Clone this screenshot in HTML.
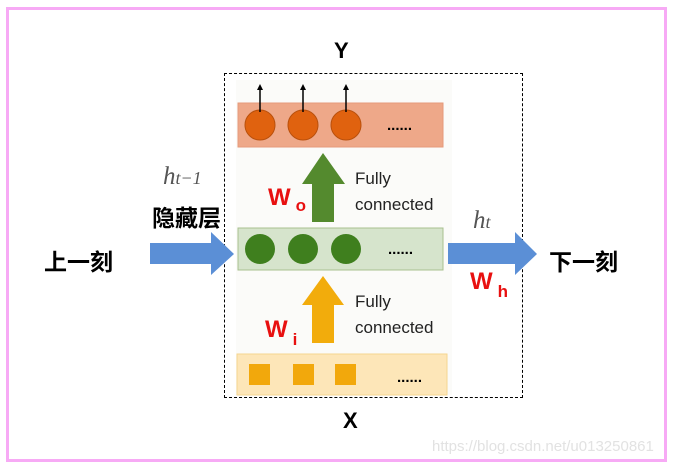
<!DOCTYPE html>
<html><head><meta charset="utf-8"><style>
body{margin:0;width:673px;height:468px;background:#fff;position:relative;overflow:hidden;font-family:"Liberation Sans","Noto Sans CJK SC",sans-serif}
.a{position:absolute}
</style></head><body>
<div class="a" style="left:6px;top:7px;width:655px;height:449px;border:3px solid #f7aaf5"></div>
<div class="a" style="left:224px;top:73px;width:297px;height:323px;border:1px dashed #000"></div>
<div class="a" style="left:236px;top:80px;width:216px;height:315px;background:#fbfbf9"></div>
<svg class="a" style="left:0;top:0" width="673" height="468">
<rect x="238" y="103" width="205" height="44" fill="#eea889" stroke="#e59a7a"/>
<g fill="#e0620f" stroke="#b9500c">
<circle cx="260" cy="125" r="15"/><circle cx="303" cy="125" r="15"/><circle cx="346" cy="125" r="15"/></g>
<g stroke="#000" stroke-width="1.5"><line x1="260" y1="112" x2="260" y2="88"/><line x1="303" y1="112" x2="303" y2="88"/><line x1="346" y1="112" x2="346" y2="88"/></g>
<g fill="#000"><path d="M257,90 L260,84 L263,90Z"/><path d="M300,90 L303,84 L306,90Z"/><path d="M343,90 L346,84 L349,90Z"/></g>
<text x="387" y="130" font-size="15" font-weight="bold">......</text>
<path d="M312,222 L312,184 L302,184 L323,153 L345,184 L334,184 L334,222Z" fill="#548a2e"/>
<rect x="238" y="228" width="205" height="42" fill="#d6e4cc" stroke="#a8c090"/>
<g fill="#3f7f1e"><ellipse cx="260" cy="249" rx="15" ry="15"/><ellipse cx="303" cy="249" rx="15" ry="15"/><ellipse cx="346" cy="249" rx="15" ry="15"/></g>
<text x="388" y="254" font-size="15" font-weight="bold">......</text>
<path d="M312,343 L312,305 L302,305 L323,276 L344,305 L334,305 L334,343Z" fill="#f2ac0c"/>
<rect x="237" y="354" width="210" height="41" fill="#fde6b8" stroke="#f5d590"/>
<g fill="#f2a80c"><rect x="249" y="364" width="21" height="21"/><rect x="293" y="364" width="21" height="21"/><rect x="335" y="364" width="21" height="21"/></g>
<text x="397" y="382" font-size="15" font-weight="bold">......</text>
<path d="M150,243 L211,243 L211,232 L234,254 L211,275 L211,264 L150,264Z" fill="#5b8fd6"/>
<path d="M448,243 L515,243 L515,232 L537,254 L515,275 L515,264 L448,264Z" fill="#5b8fd6"/>
</svg>
<div class="a" style="left:355px;top:166px;font-size:17px;line-height:26px;color:#222">Fully<br>connected</div>
<div class="a" style="left:355px;top:289px;font-size:17px;line-height:26px;color:#222">Fully<br>connected</div>
<div class="a" style="left:268px;top:184px;font-size:24px;font-weight:bold;color:#e81010">W<span style="font-size:17px;position:relative;top:6px;margin-left:5px">o</span></div>
<div class="a" style="left:265px;top:316px;font-size:24px;font-weight:bold;color:#e81010">W<span style="font-size:17px;position:relative;top:8px;margin-left:5px">i</span></div>
<div class="a" style="left:470px;top:268px;font-size:24px;font-weight:bold;color:#e81010">W<span style="font-size:17px;position:relative;top:8px;margin-left:5px">h</span></div>
<div class="a" style="left:334px;top:38px;font-size:22px;font-weight:bold">Y</div>
<div class="a" style="left:343px;top:408px;font-size:22px;font-weight:bold">X</div>
<div class="a" style="left:44px;top:243px;font-size:23px;font-weight:bold">上一刻</div>
<div class="a" style="left:549px;top:243px;font-size:23px;font-weight:bold">下一刻</div>
<div class="a" style="left:152px;top:199px;font-size:23px;font-weight:bold">隐藏层</div>
<div class="a" style="left:163px;top:163px;font-family:'Liberation Serif',serif;font-style:italic;font-size:25px;color:#555">h<span style="font-size:18px">t−1</span></div>
<div class="a" style="left:473px;top:207px;font-family:'Liberation Serif',serif;font-style:italic;font-size:25px;color:#555">h<span style="font-size:18px">t</span></div>
<div class="a" style="left:432px;top:438px;font-size:15px;color:#e2e2e2">https://blog.csdn.net/u013250861</div>
</body></html>
